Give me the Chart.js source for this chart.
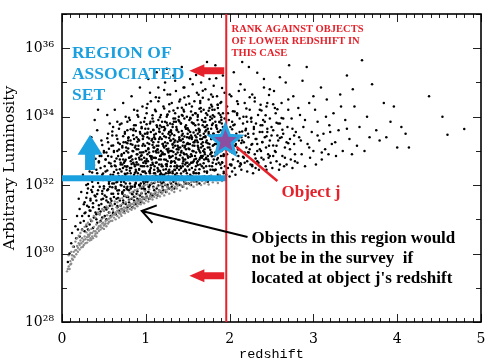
<!DOCTYPE html>
<html>
<head>
<meta charset="utf-8">
<script src="https://cdn.jsdelivr.net/npm/chart.js@4.4.1/dist/chart.umd.min.js"></script>
<style>
  body { margin: 0; background: #fff; }
  canvas { display: block; }
</style>
</head>
<body>
<canvas id="mycanvas" width="485" height="363"></canvas>
<script>
// redshift, log10(luminosity)
var edgePts = [
  [0.06,29.48],[0.08,29.62],[0.09,29.55],[0.1,29.78],[0.11,29.7],[0.12,29.95],[0.13,29.82],[0.14,30.05],
  [0.15,29.9],[0.16,30.1],[0.17,29.98],[0.18,30.22],[0.19,30.05],[0.2,30.3],[0.21,30.12],[0.22,30.38],[0.23,30.18],[0.24,30.45],[0.25,30.2],[0.25,30.35],
  [0.26,30.25],[0.27,30.5],[0.28,30.3],[0.29,30.62],[0.3,30.32],[0.3,30.48],[0.31,30.4],[0.32,30.68],[0.33,30.38],[0.33,30.55],[0.34,30.45],[0.35,30.72],[0.35,30.4],[0.36,30.6],
  [0.37,30.45],[0.38,30.78],[0.39,30.52],[0.4,30.65],[0.41,30.5],[0.41,30.85],[0.42,30.6],[0.43,30.74],[0.44,30.66],[0.45,30.92],[0.46,30.7],[0.46,30.82],[0.47,31.0],[0.48,30.75],[0.49,30.9],[0.5,30.72],[0.5,31.05],[0.51,30.85],
  [0.52,30.95],[0.53,30.8],[0.54,31.12],[0.55,30.88],[0.56,31.02],[0.57,31.2],[0.58,30.95],[0.59,31.08],[0.6,30.96],[0.61,31.28],[0.62,31.05],[0.63,31.15],[0.64,31.0],[0.65,31.35],[0.66,31.1],[0.67,31.22],[0.68,31.05],[0.69,31.4],[0.7,31.15],[0.7,31.3],[0.71,31.1],[0.72,31.45],
  [0.73,31.2],[0.74,31.35],[0.75,31.18],[0.76,31.5],[0.77,31.25],[0.78,31.4],[0.79,31.22],[0.8,31.55],[0.81,31.3],[0.82,31.45],[0.83,31.28],[0.84,31.62],[0.85,31.35],[0.86,31.5],[0.87,31.32],[0.88,31.66],[0.89,31.4],[0.9,31.55],[0.9,31.38],[0.91,31.72],[0.92,31.45],[0.93,31.6],
  [0.94,31.44],[0.95,31.78],[0.96,31.5],[0.97,31.65],[0.98,31.47],[0.99,31.82],[1.0,31.55],[1.01,31.7],[1.03,31.52],[1.04,31.88],[1.05,31.6],[1.07,31.75],[1.08,31.58],[1.09,31.92],[1.1,31.66],[1.12,31.8],[1.13,31.62],[1.14,31.96],[1.15,31.7],[1.16,31.85],[1.17,31.67],[1.18,32.0],[1.19,31.75],[1.2,31.9],
  [1.22,31.7],[1.23,32.02],[1.25,31.8],[1.26,31.95],[1.28,31.75],[1.29,32.08],[1.31,31.85],[1.32,32.0],[1.34,31.8],[1.36,32.12],[1.37,31.9],[1.39,32.05],[1.41,31.84],[1.43,32.15],[1.45,31.95],[1.47,32.1],[1.49,31.9],[1.51,32.2],[1.53,32.0],[1.55,32.12],[1.57,31.95],[1.59,32.22],
  [1.61,32.02],[1.63,32.15],[1.66,32.0],[1.68,32.25],[1.7,32.05],[1.73,32.18],[1.75,32.02],[1.78,32.28],[1.8,32.08],[1.83,32.2],[1.86,32.06],[1.88,32.3],[1.91,32.12],[1.94,32.24]
];

var edgeMidPts = [
  [0.07,29.55],[0.1,29.68],[0.12,29.85],[0.14,29.93],[0.17,30.1],[0.19,30.17],[0.21,30.25],[0.23,30.3],[0.26,30.4],[0.28,30.42],[0.31,30.55],[0.32,30.5],
  [0.34,30.6],[0.36,30.5],[0.38,30.65],[0.4,30.58],[0.42,30.72],[0.44,30.8],[0.46,30.78],[0.48,30.88],[0.5,30.82],[0.52,30.88],[0.54,30.98],[0.56,30.92],
  [0.58,31.05],[0.6,31.12],[0.62,31.15],[0.64,31.2],[0.66,31.25],[0.68,31.18],[0.7,31.22],[0.72,31.28],[0.74,31.28],[0.76,31.33],[0.78,31.3],[0.8,31.42],
  [0.82,31.38],[0.84,31.45],[0.86,31.42],[0.88,31.5],[0.9,31.47],[0.92,31.52],[0.94,31.55],[0.96,31.58],[0.98,31.62],[1.0,31.63],[1.02,31.62],[1.05,31.68],
  [1.07,31.65],[1.1,31.75],[1.12,31.72],[1.15,31.78],[1.18,31.82],[1.2,31.78],[1.23,31.85],[1.26,31.88],[1.29,31.92],[1.32,31.9],[1.35,31.95],[1.38,31.98],
  [1.42,32.0],[1.46,32.03],[1.5,32.05],[1.54,32.08],[1.58,32.1],[1.62,32.08],[1.67,32.12],[1.72,32.1]
];

var edgeTopPts = [
  [0.08,29.95],[0.11,30.05],[0.13,30.2],[0.16,30.35],[0.18,30.45],[0.2,30.52],[0.22,30.6],[0.24,30.68],[0.27,30.78],[0.29,30.85],
  [0.31,30.9],[0.34,31.0],[0.36,30.95],[0.38,31.1],[0.4,31.05],[0.43,31.2],[0.45,31.15],[0.48,31.3],[0.5,31.25],[0.53,31.38],
  [0.55,31.33],[0.58,31.45],[0.6,31.4],[0.63,31.52],[0.66,31.5],[0.69,31.6],[0.72,31.62],[0.75,31.7],[0.78,31.68],[0.81,31.78],
  [0.84,31.8],[0.87,31.85],[0.9,31.88],[0.93,31.92],[0.96,31.95],[0.99,32.0],[1.02,32.02],[1.06,32.05],[1.11,32.08],[1.16,32.1]
];

var brightPts = [
  [0.07,29.75],[0.09,30.0],[0.11,30.3],[0.12,30.6],[0.14,30.2],[0.16,30.8],[0.17,30.45],[0.18,31.1],[0.19,30.7],[0.2,31.6],
  [0.21,30.5],[0.21,31.3],[0.22,30.9],[0.23,31.8],[0.24,30.7],[0.24,31.1],[0.25,32.3],[0.26,30.95],[0.27,31.5],[0.27,30.65],[0.28,31.2],[0.29,32.0],[0.29,30.8],[0.3,33.1],
  [0.3,31.4],[0.31,30.7],[0.31,31.9],[0.32,31.1],[0.33,32.4],[0.33,30.85],[0.34,31.6],[0.34,31.25],[0.35,33.4],[0.35,30.95],[0.36,31.8],[0.36,32.1],[0.37,31.35],[0.37,30.75],[0.38,32.6],[0.38,31.05],[0.39,31.7],[0.39,33.9],[0.4,31.2],[0.4,32.2],
  [0.41,31.0],[0.41,31.55],[0.42,32.35],[0.42,30.9],[0.43,31.85],[0.43,34.2],[0.44,31.3],[0.44,32.7],[0.45,31.15],[0.45,31.95],[0.46,30.95],[0.46,32.5],[0.47,31.45],[0.47,33.3],[0.48,31.75],[0.48,31.05],[0.49,32.15],[0.49,31.6],[0.5,33.0],[0.5,31.25],[0.5,31.9],[0.45,32.85],[0.48,32.3],[0.42,33.6],
  [0.51,31.1],[0.51,31.7],[0.52,32.4],[0.52,31.35],[0.53,32.95],[0.53,31.0],[0.54,31.85],[0.54,32.2],[0.55,31.5],[0.55,33.5],[0.56,31.2],[0.56,32.65],[0.57,31.95],[0.57,31.4],[0.58,32.3],[0.58,31.1],[0.59,33.15],[0.59,31.75],[0.6,32.05],[0.6,31.3],[0.52,32.75],[0.54,34.05],[0.56,32.1],[0.57,33.8],[0.58,31.6],[0.59,32.55],[0.53,31.55],[0.55,32.85],
  [0.61,31.2],[0.61,32.3],[0.62,31.65],[0.62,33.0],[0.63,31.45],[0.63,32.7],[0.64,31.9],[0.64,31.15],[0.65,32.45],[0.65,33.45],[0.66,31.35],[0.66,32.1],[0.67,31.75],[0.67,32.85],[0.68,31.25],[0.68,32.25],[0.69,33.2],[0.69,31.55],[0.7,32.0],[0.7,32.6],[0.61,33.7],[0.62,32.05],[0.63,34.2],[0.64,32.55],[0.65,31.6],[0.66,33.0],[0.67,32.35],[0.68,31.85],[0.69,32.75],[0.7,31.4],[0.66,33.85],[0.64,31.95],
  [0.71,31.3],[0.71,32.4],[0.72,31.8],[0.72,33.1],[0.73,31.55],[0.73,32.75],[0.74,32.1],[0.74,31.25],[0.75,32.55],[0.75,33.5],[0.76,31.45],[0.76,32.2],[0.77,31.9],[0.77,33.0],[0.78,31.35],[0.78,32.35],[0.79,33.3],[0.79,31.65],[0.8,32.15],[0.8,32.8],[0.71,33.8],[0.72,32.25],[0.73,34.4],[0.74,32.65],[0.75,31.7],[0.76,33.25],[0.77,32.45],[0.78,31.95],[0.79,32.95],[0.8,31.5],[0.76,34.0],[0.74,31.85],[0.78,33.6],[0.72,32.6],
  [0.81,31.4],[0.81,32.5],[0.82,31.9],[0.82,33.2],[0.83,31.6],[0.83,32.85],[0.84,32.2],[0.84,31.35],[0.85,32.65],[0.85,33.6],[0.86,31.55],[0.86,32.3],[0.87,32.0],[0.87,33.1],[0.88,31.45],[0.88,32.45],[0.89,33.4],[0.89,31.75],[0.9,32.25],[0.9,32.9],[0.81,33.9],[0.82,32.35],[0.83,34.6],[0.84,32.75],[0.85,31.8],[0.86,33.35],[0.87,32.55],[0.88,32.05],[0.89,33.05],[0.9,31.6],[0.86,34.2],[0.84,31.95],[0.88,33.75],[0.82,32.7],[0.85,32.15],[0.89,32.6],
  [0.91,31.55],[0.91,32.6],[0.92,32.0],[0.92,33.3],[0.93,31.7],[0.93,32.95],[0.94,32.3],[0.94,31.5],[0.95,32.75],[0.95,33.7],[0.96,31.65],[0.96,32.4],[0.97,32.1],[0.97,33.2],[0.98,31.6],[0.98,32.55],[0.99,33.5],[0.99,31.85],[1.0,32.35],[1.0,33.0],[0.91,34.0],[0.92,32.45],[0.93,34.85],[0.94,32.85],[0.95,31.9],[0.96,33.45],[0.97,32.65],[0.98,32.15],[0.99,33.15],[1.0,31.75],[0.96,34.3],[0.94,32.05],[0.98,33.85],[0.92,32.8],[0.95,32.25],[0.99,32.7],[0.93,33.55],[0.97,31.95],
  [1.01,31.65],[1.01,32.7],[1.02,32.1],[1.02,33.4],[1.03,31.8],[1.03,33.05],[1.04,32.4],[1.04,31.6],[1.05,32.85],[1.05,33.8],[1.06,31.75],[1.06,32.5],[1.07,32.2],[1.07,33.3],[1.08,31.7],[1.08,32.65],[1.09,33.6],[1.09,31.95],[1.1,32.45],[1.1,33.1],[1.01,34.1],[1.02,32.55],[1.03,35.1],[1.04,32.95],[1.05,32.0],[1.06,33.55],[1.07,32.75],[1.08,32.25],[1.09,33.25],[1.1,31.85],[1.06,34.45],[1.04,32.15],[1.08,33.95],[1.02,32.9],[1.05,32.35],[1.09,32.8],[1.03,33.65],[1.07,32.05],[1.05,34.7],[1.1,33.4],
  [1.11,31.75],[1.11,32.8],[1.12,32.2],[1.12,33.5],[1.13,31.9],[1.13,33.15],[1.14,32.5],[1.14,31.7],[1.15,32.95],[1.15,33.9],[1.16,31.85],[1.16,32.6],[1.17,32.3],[1.17,33.4],[1.18,31.8],[1.18,32.75],[1.19,33.7],[1.19,32.05],[1.2,32.55],[1.2,33.2],[1.11,34.2],[1.12,32.65],[1.13,35.3],[1.14,33.05],[1.15,32.1],[1.16,33.65],[1.17,32.85],[1.18,32.35],[1.19,33.35],[1.2,31.95],[1.16,34.55],[1.14,32.25],[1.18,34.05],[1.12,33.0],[1.15,32.45],[1.19,32.9],[1.13,33.75],[1.17,32.15],[1.15,34.85],[1.2,33.5],
  [1.21,31.85],[1.21,32.9],[1.22,32.3],[1.22,33.6],[1.23,32.0],[1.23,33.25],[1.24,32.6],[1.24,31.8],[1.25,33.05],[1.25,34.0],[1.26,31.95],[1.26,32.7],[1.27,32.4],[1.27,33.5],[1.28,31.9],[1.28,32.85],[1.29,33.8],[1.29,32.15],[1.3,32.65],[1.3,33.3],[1.21,34.3],[1.22,32.75],[1.23,35.0],[1.24,33.15],[1.25,32.2],[1.26,33.75],[1.27,32.95],[1.28,32.45],[1.29,33.45],[1.3,32.05],[1.26,34.65],[1.24,32.35],[1.28,34.15],[1.22,33.1],[1.25,32.55],[1.29,33.0],[1.23,33.85],[1.27,32.25],[1.25,35.4],[1.3,33.6],
  [1.31,31.95],[1.31,33.0],[1.32,32.4],[1.32,33.7],[1.33,32.1],[1.33,33.35],[1.34,32.7],[1.34,31.9],[1.35,33.15],[1.35,34.1],[1.36,32.05],[1.36,32.8],[1.37,32.5],[1.37,33.6],[1.38,32.0],[1.38,32.95],[1.39,33.9],[1.39,32.25],[1.4,32.75],[1.4,33.4],[1.31,34.4],[1.32,32.85],[1.33,35.2],[1.34,33.25],[1.35,32.3],[1.36,33.85],[1.37,33.05],[1.38,32.55],[1.39,33.55],[1.4,32.15],[1.36,34.75],[1.34,32.45],[1.38,34.25],[1.32,33.2],[1.35,32.65],[1.39,33.1],[1.33,33.95],[1.37,32.35],
  [1.41,32.0],[1.41,33.1],[1.42,32.5],[1.42,33.8],[1.43,32.2],[1.43,33.45],[1.44,32.8],[1.44,31.95],[1.45,33.25],[1.45,34.2],[1.46,32.1],[1.46,32.9],[1.47,32.6],[1.47,33.7],[1.48,32.05],[1.48,33.05],[1.49,34.0],[1.49,32.35],[1.5,32.85],[1.5,33.5],[1.41,34.5],[1.42,32.95],[1.43,35.45],[1.44,33.35],[1.45,32.4],[1.46,33.95],[1.47,33.15],[1.48,32.65],[1.49,33.65],[1.5,32.25],[1.46,34.85],[1.44,32.55],[1.48,34.35],[1.42,33.3],[1.45,32.75],[1.49,33.2],[1.43,34.05],[1.47,32.45],
  [1.51,32.05],[1.51,33.2],[1.52,32.6],[1.52,33.9],[1.53,32.3],[1.53,33.55],[1.54,32.9],[1.54,32.0],[1.55,33.35],[1.55,34.3],[1.56,32.15],[1.56,33.0],[1.57,32.7],[1.57,33.8],[1.58,32.1],[1.58,33.15],[1.59,34.1],[1.59,32.45],[1.6,32.95],[1.6,33.6],[1.51,34.6],[1.52,33.05],[1.53,35.1],[1.54,33.45],[1.55,32.5],[1.56,34.05],[1.57,33.25],[1.58,32.75],[1.59,33.75],[1.6,32.35],[1.56,34.95],[1.54,32.65],[1.58,34.45],[1.52,33.4],[1.55,32.85],[1.59,33.3],
  [1.61,32.1],[1.61,33.3],[1.62,32.7],[1.62,34.0],[1.63,32.35],[1.63,33.65],[1.64,33.0],[1.64,32.05],[1.65,33.45],[1.65,34.4],[1.66,32.2],[1.66,33.1],[1.67,32.8],[1.67,33.9],[1.68,32.15],[1.68,33.25],[1.69,34.2],[1.69,32.5],[1.7,33.05],[1.7,33.7],[1.61,34.7],[1.62,33.15],[1.63,35.35],[1.64,33.55],[1.65,32.6],[1.66,34.15],[1.67,33.35],[1.68,32.85],[1.69,33.85],[1.7,32.4],[1.66,35.0],[1.64,32.75],[1.68,34.55],[1.62,33.5],[1.65,32.95],[1.69,33.4],
  [1.71,32.15],[1.71,33.4],[1.72,32.8],[1.72,34.1],[1.73,32.4],[1.73,33.75],[1.74,33.1],[1.74,32.1],[1.75,33.55],[1.75,34.5],[1.76,32.25],[1.76,33.2],[1.77,32.9],[1.77,34.0],[1.78,32.2],[1.78,33.35],[1.79,34.3],[1.79,32.55],[1.8,33.15],[1.8,33.8],[1.71,34.8],[1.72,33.25],[1.73,35.6],[1.74,33.65],[1.75,32.7],[1.76,34.25],[1.77,33.45],[1.78,32.95],[1.79,33.95],[1.8,32.45],[1.76,35.1],[1.74,32.85],[1.78,34.65],[1.72,33.6],
  [1.81,32.2],[1.81,33.5],[1.82,32.85],[1.82,34.2],[1.83,32.45],[1.83,33.85],[1.84,33.2],[1.84,32.15],[1.85,33.65],[1.85,34.6],[1.86,32.3],[1.86,33.3],[1.87,33.0],[1.87,34.1],[1.88,32.25],[1.88,33.45],[1.89,34.4],[1.89,32.6],[1.9,33.25],[1.9,33.9],[1.81,34.9],[1.82,33.35],[1.83,35.5],[1.84,33.75],[1.85,32.75],[1.86,34.35],[1.87,33.55],[1.88,33.05],[1.89,34.05],[1.9,32.5],[1.92,35.2],[1.93,32.9],[1.94,34.7],[1.92,33.7],[1.93,32.35],[1.94,33.4],
  [1.96,32.3],[1.96,33.6],[1.97,32.9],[1.97,34.3],[1.98,32.5],[1.99,33.9],[2.0,33.2],[2.0,32.25],[2.01,33.7],[2.02,34.6],[2.03,32.4],[2.04,33.35],[2.05,33.05],[2.06,34.15],[2.07,32.3],[2.08,33.5],[2.09,34.45],[2.1,32.7],[2.11,33.3],[2.12,33.95],[2.13,34.95],[2.14,33.4],[2.15,35.6],[2.16,33.8],[2.17,32.8],[2.18,34.4],[2.19,33.6],[2.2,33.1],[1.98,34.1],[2.02,32.6],[2.05,35.3],[2.08,32.95],[2.11,34.75],[2.14,32.45],[2.17,33.25],[2.2,34.0],[2.03,33.85],[2.07,33.15],[2.12,32.55],[2.18,32.65],
  [2.21,32.4],[2.22,33.5],[2.23,32.95],[2.24,34.2],[2.25,32.6],[2.26,33.85],[2.27,33.2],[2.28,32.35],[2.29,33.7],[2.3,34.55],[2.31,32.5],[2.32,33.35],[2.33,33.0],[2.34,34.05],[2.35,32.45],[2.36,33.55],[2.37,34.35],[2.38,32.8],[2.39,33.25],[2.4,33.9],[2.41,35.1],[2.42,33.4],[2.43,32.55],[2.44,34.3],[2.45,33.65],[2.46,32.9],[2.47,33.15],[2.48,34.8],[2.49,32.65],[2.5,33.45],[2.23,35.45],[2.27,34.65],[2.33,32.7],[2.39,33.75],[2.44,32.45],[2.48,33.95],
  [2.51,32.5],[2.52,33.6],[2.54,33.0],[2.55,34.1],[2.56,32.7],[2.58,33.3],[2.59,32.45],[2.6,33.8],[2.62,34.4],[2.63,32.85],[2.64,33.5],[2.66,33.1],[2.67,35.0],[2.68,32.6],[2.69,33.7],[2.7,34.2],[2.71,35.5],[2.72,33.35],[2.73,32.75],[2.74,33.95],[2.75,32.5],[2.76,34.6],[2.77,33.2],[2.78,32.9],[2.53,34.75],[2.57,33.45],[2.65,32.55],[2.79,33.55],
  [2.81,32.65],[2.83,33.4],[2.84,34.05],[2.86,32.9],[2.88,33.7],[2.9,32.55],[2.92,35.45],[2.93,33.2],[2.95,34.4],[2.96,32.8],[2.98,33.55],[3.0,33.0],[3.02,34.2],[3.03,32.6],[3.05,33.85],[3.07,33.3],[3.09,34.85],[3.1,32.75],[3.12,33.5],[3.14,33.05],[3.16,34.5],[3.18,32.9],[3.19,33.75],[2.87,35.05],
  [3.22,33.2],[3.24,34.1],[3.27,32.85],[3.3,33.6],[3.32,34.65],[3.35,33.0],[3.38,33.9],[3.4,35.2],[3.43,33.35],[3.46,32.9],[3.49,34.3],[3.52,33.15],[3.55,33.7],[3.58,35.65],[3.61,33.0],[3.64,34.0],[3.67,33.4],[3.7,34.95],
  [3.75,33.6],[3.79,33.3],[3.84,34.4],[3.87,33.4],[3.92,33.85],[3.96,34.3],[4.0,33.1],[4.05,33.7],[4.1,33.5],[4.14,33.1],[4.38,34.6],[4.54,34.0],[4.6,33.47],[4.8,33.64]
];

// second pass over the dense core, read row by row in luminosity
var corePts = [
  [0.27,31.18],[0.33,31.26],[0.41,31.15],[0.46,31.23],[0.53,31.29],[0.61,31.17],
  [0.26,31.44],[0.32,31.36],[0.37,31.47],[0.44,31.41],[0.51,31.35],[0.58,31.46],[0.66,31.39],[0.73,31.48],
  [0.29,31.63],[0.34,31.55],[0.4,31.67],[0.47,31.58],[0.53,31.65],[0.59,31.54],[0.67,31.62],[0.74,31.68],[0.8,31.57],[0.86,31.66],
  [0.3,31.77],[0.35,31.86],[0.42,31.74],[0.48,31.83],[0.55,31.88],[0.61,31.75],[0.66,31.84],[0.72,31.78],[0.78,31.87],[0.84,31.73],[0.9,31.82],[0.95,31.76],[0.99,31.89],[1.03,31.8],
  [0.31,32.03],[0.37,31.95],[0.43,32.06],[0.5,31.97],[0.56,32.04],[0.6,31.94],[0.65,32.08],[0.71,31.99],[0.76,32.05],[0.82,31.96],[0.88,32.07],[0.93,31.98],[0.98,32.04],[1.04,31.95],[1.1,32.06],[1.15,31.99],[1.21,32.08],[1.26,32.01],
  [0.35,32.15],[0.46,32.22],[0.57,32.13],[0.68,32.26],[0.79,32.17],[0.9,32.24],[1.01,32.14],[1.12,32.27],[1.23,32.16],[1.34,32.23],[1.45,32.18],[1.55,32.26],[1.7,32.25],[1.88,32.28],
  [0.36,32.37],[0.41,32.45],[0.49,32.34],[0.54,32.43],[0.62,32.38],[0.69,32.46],[0.75,32.33],[0.81,32.42],[0.87,32.36],[0.92,32.47],[0.97,32.39],[1.05,32.44],[1.11,32.35],[1.17,32.41],[1.24,32.46],[1.29,32.37],[1.35,32.44],[1.42,32.34],[1.48,32.42],[1.57,32.38],[1.64,32.46],[1.73,32.36],[1.82,32.43],[1.93,32.39],
  [0.38,32.58],[0.44,32.66],[0.51,32.55],[0.58,32.63],[0.63,32.57],[0.7,32.65],[0.77,32.54],[0.83,32.62],[0.89,32.67],[0.94,32.56],[1.0,32.64],[1.06,32.58],[1.13,32.66],[1.19,32.55],[1.25,32.61],[1.31,32.68],[1.37,32.57],[1.44,32.63],[1.5,32.55],[1.56,32.66],[1.62,32.59],[1.69,32.64],[1.76,32.56],[1.84,32.62],[1.91,32.67],[2.02,32.57],[2.13,32.64],[2.27,32.59],
  [0.4,32.77],[0.47,32.85],[0.52,32.75],[0.59,32.83],[0.65,32.78],[0.71,32.86],[0.76,32.74],[0.82,32.82],[0.88,32.77],[0.95,32.87],[1.01,32.76],[1.07,32.84],[1.12,32.79],[1.18,32.86],[1.24,32.74],[1.3,32.82],[1.36,32.78],[1.41,32.87],[1.47,32.75],[1.53,32.83],[1.6,32.77],[1.66,32.85],[1.72,32.76],[1.79,32.84],[1.86,32.79],[1.93,32.86],[2.04,32.75],[2.16,32.83],[2.31,32.78],[2.48,32.85],
  [0.43,33.02],[0.5,32.95],[0.56,33.06],[0.62,32.97],[0.68,33.04],[0.74,32.94],[0.79,33.07],[0.85,32.99],[0.91,33.05],[0.97,32.96],[1.03,33.08],[1.09,32.98],[1.14,33.03],[1.2,32.95],[1.27,33.06],[1.33,32.97],[1.39,33.04],[1.45,32.94],[1.51,33.07],[1.57,32.99],[1.63,33.05],[1.7,32.96],[1.77,33.03],[1.83,32.95],[1.9,33.06],[2.01,32.98],[2.1,33.04],[2.22,32.96],[2.36,33.05],[2.55,32.97],
  [0.48,33.17],[0.55,33.25],[0.61,33.16],[0.67,33.24],[0.72,33.14],[0.78,33.22],[0.84,33.18],[0.9,33.27],[0.96,33.15],[1.02,33.23],[1.08,33.17],[1.15,33.26],[1.21,33.14],[1.26,33.22],[1.32,33.18],[1.38,33.27],[1.44,33.15],[1.5,33.23],[1.56,33.16],[1.62,33.25],[1.68,33.14],[1.74,33.22],[1.81,33.17],[1.87,33.26],[2.05,33.15],[2.14,33.23],[2.26,33.18],[2.39,33.26],[2.52,33.16],[2.7,33.22],
  [0.54,33.37],[0.6,33.45],[0.66,33.35],[0.73,33.43],[0.79,33.38],[0.85,33.46],[0.91,33.34],[0.97,33.42],[1.04,33.36],[1.1,33.47],[1.16,33.35],[1.22,33.43],[1.28,33.38],[1.34,33.46],[1.4,33.34],[1.46,33.42],[1.52,33.37],[1.59,33.45],[1.65,33.35],[1.71,33.43],[1.78,33.38],[1.85,33.46],[2.08,33.36],[2.19,33.44],[2.31,33.35],[2.44,33.43],[2.6,33.38],[2.77,33.45],
  [0.6,33.57],[0.68,33.65],[0.75,33.55],[0.82,33.63],[0.88,33.58],[0.95,33.66],[1.02,33.54],[1.09,33.62],[1.16,33.57],[1.23,33.65],[1.3,33.55],[1.37,33.63],[1.43,33.58],[1.5,33.66],[1.57,33.54],[1.64,33.62],[1.71,33.57],[1.78,33.65],[1.86,33.56],[2.03,33.63],[2.15,33.57],[2.29,33.64],[2.45,33.55],[2.63,33.62],
  [0.69,33.77],[0.78,33.85],[0.86,33.75],[0.94,33.83],[1.01,33.78],[1.09,33.86],[1.17,33.74],[1.25,33.82],[1.32,33.78],[1.4,33.86],[1.48,33.75],[1.55,33.83],[1.63,33.77],[1.71,33.85],[1.79,33.76],[1.88,33.84],[2.06,33.77],[2.21,33.85],[2.37,33.75],[2.56,33.82],
  [0.8,33.97],[0.9,34.05],[0.99,33.96],[1.08,34.04],[1.17,33.98],[1.26,34.06],[1.35,33.95],[1.44,34.03],[1.53,33.97],[1.62,34.05],[1.71,33.96],[1.8,34.04],[1.9,33.98],[2.09,34.05],[2.26,33.97],[2.43,34.04],[2.62,33.96],
  [0.9,34.17],[1.01,34.25],[1.12,34.16],[1.22,34.24],[1.33,34.18],[1.43,34.26],[1.54,34.15],[1.64,34.23],[1.75,34.17],[1.86,34.25],[2.04,34.16],[2.2,34.24],[2.38,34.18],[2.57,34.22],
  [1.02,34.37],[1.15,34.45],[1.28,34.36],[1.4,34.44],[1.52,34.38],[1.65,34.46],[1.78,34.35],[1.9,34.43],[2.1,34.37],[2.3,34.44],[2.52,34.36],
  [1.12,34.57],[1.29,34.65],[1.46,34.56],[1.63,34.64],[1.8,34.58],[2.0,34.65],[2.24,34.57],[2.47,34.63],
  [1.22,34.78],[1.45,34.85],[1.68,34.76],[1.91,34.84],[2.18,34.79],[2.41,34.85],
  [1.35,35.05],[1.6,35.22],[1.84,35.12],[2.33,35.28],[2.6,35.15]
];

// third pass: the darkest part of the cloud and the tail beyond z = 2
var fillPts = [
  [0.705,32.1],[0.712,32.9],[0.72,31.75],[0.727,32.5],[0.735,33.25],[0.743,31.95],[0.75,32.7],[0.758,32.3],[0.765,33.1],[0.772,31.65],[0.78,32.55],[0.787,32.15],[0.794,33.4],[0.798,31.85],
  [0.804,32.8],[0.811,32.05],[0.818,33.3],[0.826,32.5],[0.833,31.75],[0.841,33.0],[0.848,32.2],[0.856,33.65],[0.863,32.6],[0.87,31.95],[0.878,33.15],[0.885,32.4],[0.892,32.9],[0.897,32.15],
  [0.905,32.35],[0.912,33.15],[0.92,32.0],[0.927,32.75],[0.935,33.5],[0.943,32.2],[0.95,32.95],[0.958,32.55],[0.965,33.35],[0.972,31.9],[0.98,32.8],[0.987,32.4],[0.994,33.65],[0.998,32.1],
  [1.004,33.0],[1.011,32.25],[1.018,33.5],[1.026,32.7],[1.033,31.95],[1.041,33.2],[1.048,32.4],[1.056,33.85],[1.063,32.8],[1.07,32.15],[1.078,33.35],[1.085,32.6],[1.092,33.1],[1.097,32.35],
  [1.105,32.55],[1.112,33.35],[1.12,32.2],[1.127,32.95],[1.135,33.7],[1.143,32.4],[1.15,33.15],[1.158,32.75],[1.165,33.55],[1.172,32.1],[1.18,33.0],[1.187,32.6],[1.194,33.85],[1.198,32.3],
  [1.204,33.2],[1.211,32.45],[1.218,33.7],[1.226,32.9],[1.233,32.15],[1.241,33.4],[1.248,32.6],[1.256,34.05],[1.263,33.0],[1.27,32.35],[1.278,33.55],[1.285,32.8],[1.292,33.3],[1.297,32.55],
  [1.305,32.7],[1.312,33.5],[1.32,32.35],[1.327,33.1],[1.335,33.85],[1.343,32.55],[1.35,33.3],[1.358,32.9],[1.365,33.7],[1.372,32.25],[1.38,33.15],[1.387,32.75],[1.394,34.0],[1.398,32.45],
  [1.404,33.3],[1.411,32.55],[1.418,33.8],[1.426,33.0],[1.433,32.25],[1.441,33.5],[1.448,32.7],[1.456,34.15],[1.463,33.1],[1.47,32.45],[1.478,33.65],[1.485,32.9],[1.492,33.4],[1.497,32.65],
  [1.505,32.8],[1.512,33.6],[1.52,32.45],[1.527,33.2],[1.535,33.95],[1.543,32.65],[1.55,33.4],[1.558,33.0],[1.565,33.8],[1.572,32.35],[1.58,33.25],[1.587,32.85],[1.594,34.1],[1.598,32.55],
  [1.604,33.4],[1.611,32.65],[1.618,33.9],[1.626,33.1],[1.633,32.35],[1.641,33.6],[1.648,32.8],[1.656,34.25],[1.663,33.2],[1.67,32.55],[1.678,33.75],[1.685,33.0],[1.692,33.5],[1.697,32.75],
  [1.705,32.9],[1.712,33.7],[1.72,32.55],[1.727,33.3],[1.735,34.05],[1.743,32.75],[1.75,33.5],[1.758,33.1],[1.765,33.9],[1.772,32.45],[1.78,33.35],[1.787,32.95],[1.794,34.2],[1.798,32.65],
  [1.804,33.5],[1.811,32.75],[1.818,34.0],[1.826,33.2],[1.833,32.45],[1.841,33.7],[1.848,32.9],[1.856,34.35],[1.863,33.3],[1.87,32.65],[1.878,33.85],[1.885,33.1],[1.892,33.6],[1.897,32.85],
  [1.903,33.0],[1.907,33.8],[1.912,32.65],[1.916,33.4],[1.921,34.1],[1.926,32.85],[1.93,33.6],[1.935,33.2],[1.94,33.95],[1.944,32.55],[1.948,33.45],[1.952,33.05],
  [2.005,32.6],[2.015,33.4],[2.03,32.95],[2.045,33.75],[2.06,32.5],[2.075,33.2],[2.09,34.1],[2.105,32.85],[2.12,33.55],[2.135,32.6],[2.15,33.3],[2.165,34.0],[2.18,32.95],[2.195,33.65],
  [2.21,32.7],[2.225,33.4],[2.24,33.05],[2.255,33.95],[2.27,32.55],[2.285,33.5],[2.3,32.9],[2.315,33.8],[2.33,33.2],[2.345,32.65],[2.36,34.2],[2.375,33.0],[2.39,33.55],[2.405,32.75],
  [2.42,33.85],[2.435,33.1],[2.45,34.4],[2.465,32.8],[2.48,33.3],[2.5,33.7],[2.52,32.85],[2.54,34.25],[2.56,33.15],[2.58,33.8],[2.6,32.6],[2.62,33.4],[2.64,33.95],[2.66,32.8],
  [2.68,33.25],[2.7,34.5],[2.72,33.05],[2.75,33.65],[2.78,32.7],[2.82,34.25],[2.85,33.3],[2.9,33.9],[2.95,33.1],[3.0,34.6],[3.05,33.45],[3.1,32.95],[3.15,34.0],[3.2,33.55],
  [3.26,33.25],[3.33,34.3],[3.4,33.65],[3.47,34.8]
];

var xTickVals = [0, 1, 2, 3, 4, 5];
var yLabelExps = [28, 30, 32, 34, 36];

var objectJ = [1.95, 33.29];   // z, log L of object j
var cutZ = 1.96;               // redshift of object j (red line)
var cutLogL = 32.2;            // luminosity limit at object j (blue line)

var sup = {'0':'⁰','1':'¹','2':'²','3':'³','4':'⁴','5':'⁵','6':'⁶','7':'⁷','8':'⁸','9':'⁹'};
function powLabel(e) {
  return '10' + String(e).split('').map(function(c){ return sup[c]; }).join('');
}

var RED = '#e5222b';
var BLUE = '#1a9fdf';

function leftArrow(ctx, xTip, xTail, y) {
  var hl = 15, hh = 6.5, sh = 3.5;
  ctx.beginPath();
  ctx.moveTo(xTip, y);
  ctx.lineTo(xTip + hl, y - hh);
  ctx.lineTo(xTip + hl, y - sh);
  ctx.lineTo(xTail, y - sh);
  ctx.lineTo(xTail, y + sh);
  ctx.lineTo(xTip + hl, y + sh);
  ctx.lineTo(xTip + hl, y + hh);
  ctx.closePath();
  ctx.fill();
}

function upArrow(ctx, x, yTip, yTail) {
  var hl = 20, hw = 12.5, sw = 5;
  ctx.beginPath();
  ctx.moveTo(x, yTip);
  ctx.lineTo(x + hw, yTip + hl);
  ctx.lineTo(x + sw, yTip + hl);
  ctx.lineTo(x + sw, yTail);
  ctx.lineTo(x - sw, yTail);
  ctx.lineTo(x - sw, yTip + hl);
  ctx.lineTo(x - hw, yTip + hl);
  ctx.closePath();
  ctx.fill();
}

function starPath(ctx, cx, cy, R, r) {
  ctx.beginPath();
  for (var i = 0; i < 10; i++) {
    var a = -Math.PI / 2 + i * Math.PI / 5;
    var rad = (i % 2 === 0) ? R : r;
    ctx.lineTo(cx + rad * Math.cos(a), cy + rad * Math.sin(a));
  }
  ctx.closePath();
}

// frame + inward ticks on all four sides
var frameTicks = {
  id: 'frameTicks',
  afterDatasetsDraw: function(chart) {
    var ctx = chart.ctx, a = chart.chartArea;
    var xs = chart.scales.x, ys = chart.scales.y;
    ctx.save();
    ctx.strokeStyle = '#222';
    ctx.lineWidth = 1;
    ctx.beginPath();
    for (var i = 0; i <= 50; i++) {
      var v = i / 10;
      var px = Math.round(xs.getPixelForValue(v)) + 0.5;
      var len = (i % 10 === 0) ? 8 : 4;
      ctx.moveTo(px, a.bottom); ctx.lineTo(px, a.bottom - len);
      ctx.moveTo(px, a.top); ctx.lineTo(px, a.top + len);
    }
    for (var e = 28; e <= 37; e++) {
      var py = Math.round(ys.getPixelForValue(e)) + 0.5;
      var l2 = (e % 2 === 0) ? 8 : 5;
      ctx.moveTo(a.left, py); ctx.lineTo(a.left + l2, py);
      ctx.moveTo(a.right, py); ctx.lineTo(a.right - l2, py);
    }
    ctx.stroke();
    ctx.lineWidth = 1.6;
    ctx.strokeStyle = '#000';
    ctx.strokeRect(a.left, a.top, a.right - a.left, a.bottom - a.top);
    ctx.restore();
  }
};

// arrows, lines, star and the texts
var notes = {
  id: 'notes',
  afterDatasetsDraw: function(chart) {
    var ctx = chart.ctx, a = chart.chartArea;
    var xs = chart.scales.x, ys = chart.scales.y;
    var X = function(v){ return xs.getPixelForValue(v); };
    var Y = function(v){ return ys.getPixelForValue(v); };
    ctx.save();

    // blue limit line
    ctx.fillStyle = BLUE;
    ctx.fillRect(a.left, Y(cutLogL) - 3, X(cutZ) - a.left, 6);
    upArrow(ctx, X(0.335), Y(33.47), Y(32.44));

    // red redshift line
    ctx.strokeStyle = RED;
    ctx.lineWidth = 2;
    ctx.beginPath();
    ctx.moveTo(X(cutZ), a.top);
    ctx.lineTo(X(cutZ), a.bottom);
    ctx.stroke();

    ctx.fillStyle = RED;
    leftArrow(ctx, X(1.52), X(cutZ) - 2, Y(35.34));
    leftArrow(ctx, X(1.52), X(cutZ) - 2, Y(29.35));

    // pointer from star to label
    ctx.lineWidth = 2.5;
    ctx.beginPath();
    ctx.moveTo(X(2.08), Y(33.12));
    ctx.lineTo(X(2.57), Y(32.12));
    ctx.stroke();

    // object j star
    starPath(ctx, X(objectJ[0]), Y(objectJ[1]), 16, 7);
    ctx.fillStyle = '#8b4ea0';
    ctx.fill();
    ctx.lineWidth = 3;
    ctx.strokeStyle = '#27a5e3';
    ctx.stroke();

    // black pointer arrow
    var x1 = X(2.214), y1 = Y(30.485), x0 = X(0.952), y0 = Y(31.245);
    var ang = Math.atan2(y1 - y0, x1 - x0);
    ctx.strokeStyle = '#000';
    ctx.lineWidth = 2;
    ctx.beginPath();
    ctx.moveTo(x1, y1); ctx.lineTo(x0, y0);
    ctx.moveTo(x0 + 16 * Math.cos(ang - 0.6), y0 + 16 * Math.sin(ang - 0.6));
    ctx.lineTo(x0, y0);
    ctx.lineTo(x0 + 16 * Math.cos(ang + 0.6), y0 + 16 * Math.sin(ang + 0.6));
    ctx.stroke();

    // texts
    ctx.textAlign = 'left';
    ctx.textBaseline = 'alphabetic';
    ctx.fillStyle = BLUE;
    ctx.font = 'bold 17.5px "Liberation Serif"';
    var bx = X(0.119), by = Y(35.72);
    ctx.fillText('REGION OF', bx, by);
    ctx.fillText('ASSOCIATED', bx, by + 21.5);
    ctx.fillText('SET', bx, by + 42);

    ctx.fillStyle = RED;
    ctx.font = 'bold 10.5px "Liberation Serif"';
    var rx = X(2.024), ry = Y(36.48);
    ctx.fillText('RANK AGAINST OBJECTS', rx, ry);
    ctx.fillText('OF LOWER REDSHIFT IN', rx, ry + 12);
    ctx.fillText('THIS CASE', rx, ry + 24);

    ctx.font = 'bold 17px "Liberation Serif"';
    ctx.fillText('Object j', X(2.619), Y(31.655));

    ctx.fillStyle = '#000';
    ctx.font = 'bold 17px "Liberation Serif"';
    var tx = X(2.262), ty = Y(30.31);
    ctx.fillText('Objects in this region would', tx, ty);
    ctx.fillText('not be in the survey  if', tx, ty + 20);
    ctx.fillText("located at object j's redshift", tx, ty + 40);
    ctx.restore();
  }
};

var toXY = function(p){ return {x: p[0], y: p[1]}; };

var ctx = document.getElementById('mycanvas');
var chart = new Chart(ctx, {
  type: 'scatter',
  data: {
    datasets: [
      { label: 'flux-limit edge', data: edgePts.concat(edgeMidPts, edgeTopPts).map(toXY), backgroundColor: '#8c8c8c', borderWidth: 0, pointRadius: 1.2 },
      { label: 'objects', data: brightPts.concat(corePts, fillPts).map(toXY), backgroundColor: '#000', borderWidth: 0, pointRadius: 1.25 }
    ]
  },
  options: {
    responsive: false,
    animation: false,
    events: [],
    layout: { padding: { top: 14, right: 3, left: 0, bottom: 0 } },
    plugins: { legend: { display: false }, tooltip: { enabled: false } },
    scales: {
      x: {
        type: 'linear', min: 0, max: 5,
        afterBuildTicks: function(s){ s.ticks = xTickVals.map(function(v){ return {value: v}; }); },
        afterFit: function(s){ s.height = 41; s.paddingLeft = 0; s.paddingRight = 0; },
        grid: { display: false, drawTicks: false },
        border: { display: false },
        ticks: { padding: 9, color: '#000', maxRotation: 0, font: { family: 'DejaVu Serif', size: 14 } },
        title: { display: true, text: 'redshift', color: '#000', padding: { top: 0, bottom: 0 },
                 font: { family: 'Liberation Mono', size: 13.5 } }
      },
      y: {
        type: 'linear', min: 28, max: 37,
        afterBuildTicks: function(s){ s.ticks = yLabelExps.map(function(v){ return {value: v}; }); },
        afterFit: function(s){ s.width = 62; s.paddingTop = 0; s.paddingBottom = 0; },
        grid: { display: false, drawTicks: false },
        border: { display: false },
        ticks: { padding: 8, color: '#000', callback: function(v){ return powLabel(v); },
                 font: { family: 'DejaVu Serif', size: 14 } },
        title: { display: true, text: 'Arbitrary Luminosity', color: '#000', padding: { top: 1, bottom: 0 },
                 font: { family: 'DejaVu Serif', size: 15.5 } }
      }
    }
  },
  plugins: [frameTicks, notes]
});
</script>
</body>
</html>
